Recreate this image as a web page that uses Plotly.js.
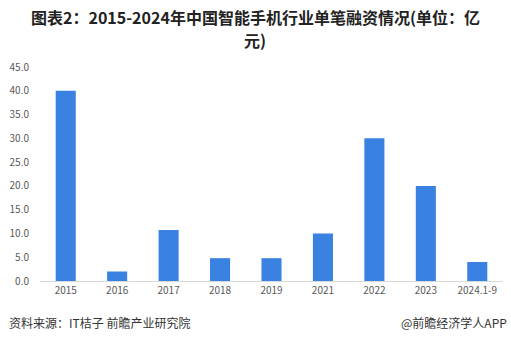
<!DOCTYPE html>
<html>
<head>
<meta charset="utf-8">
<script src="https://cdn.plot.ly/plotly-3.0.1.min.js"></script>
<style>html,body{margin:0;padding:0;background:#fff;}#chart{width:511px;height:344px;}</style>
</head>
<body>
<div id="chart"></div>
<script>
const categories = ["2015","2016","2017","2018","2019","2021","2022","2023","2024.1-9"];
const values = [40, 2, 10.7, 4.8, 4.8, 10, 30, 20, 4];
const yTicks = [0,5,10,15,20,25,30,35,40,45];
const titleLine1 = "<b>图表2：2015-2024年中国智能手机行业单笔融资情况(单位：亿</b>";
const titleLine2 = "<b>元)</b>";
const sourceText = "资料来源：IT桔子 前瞻产业研究院";
const brandText = "@前瞻经济学人APP";

const font = "'Microsoft YaHei','Noto Sans CJK SC','Noto Sans',sans-serif";

Plotly.newPlot('chart', [{
  type: 'bar',
  x: categories,
  y: values,
  marker: {color: '#3a82e2'},
  hoverinfo: 'x+y'
}], {
  width: 511, height: 344,
  margin: {l: 40, r: 8, t: 67, b: 63},
  paper_bgcolor: '#fff', plot_bgcolor: '#fff',
  bargap: 0.61,
  showlegend: false,
  xaxis: {
    type: 'category',
    showline: true, linecolor: '#d9d9d9', linewidth: 1,
    showgrid: false, ticks: '',
    tickfont: {family: font, size: 10, color: '#595959'},
    fixedrange: true
  },
  yaxis: {
    range: [0, 45],
    tickvals: yTicks,
    ticktext: yTicks.map(v => v.toFixed(1)),
    showgrid: false, zeroline: false, showline: false, ticks: '',
    ticklabelstandoff: 10,
    tickfont: {family: font, size: 10, color: '#595959'},
    fixedrange: true
  },
  annotations: [
    {text: titleLine1, xref: 'paper', yref: 'paper', x: 0.4654, y: 1, yshift: 50, xanchor: 'center', yanchor: 'middle', borderpad: 0, showarrow: false, font: {family: font, size: 16, color: '#222'}},
    {text: titleLine2, xref: 'paper', yref: 'paper', x: 0.4654, y: 1, yshift: 27, xanchor: 'center', yanchor: 'middle', borderpad: 0, showarrow: false, font: {family: font, size: 16, color: '#222'}},
    {text: sourceText, xref: 'paper', yref: 'paper', x: 0, xshift: -33, y: 0, yshift: -41, xanchor: 'left', yanchor: 'middle', showarrow: false, font: {family: font, size: 12, color: '#333'}},
    {text: brandText, xref: 'paper', yref: 'paper', x: 1, xshift: 6, y: 0, yshift: -41, xanchor: 'right', yanchor: 'middle', showarrow: false, font: {family: font, size: 12, color: '#333'}}
  ]
}, {displayModeBar: false, staticPlot: true});
</script>
</body>
</html>
